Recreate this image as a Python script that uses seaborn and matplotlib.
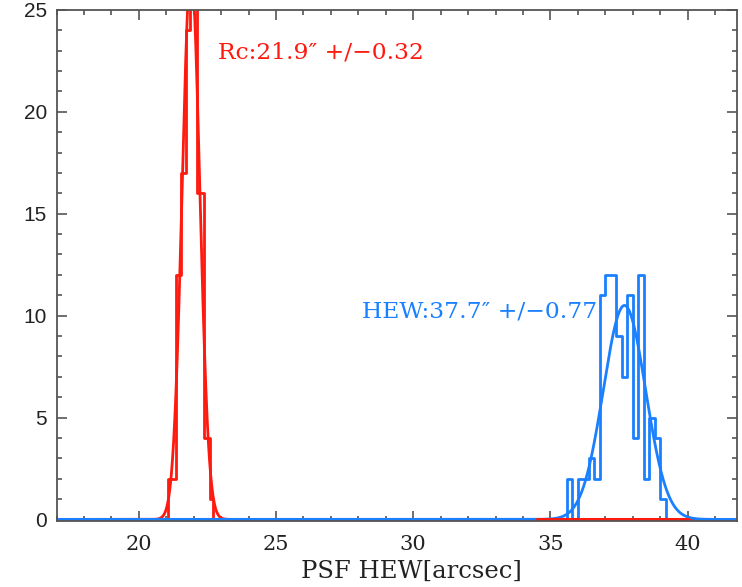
import numpy as np
import pandas as pd
import matplotlib
matplotlib.use("Agg")
import matplotlib.pyplot as plt
import seaborn as sns
from matplotlib.ticker import MultipleLocator

# ---- data ----
red_edges = [21.07, 21.34, 21.52, 21.71, 21.87, 22.01, 22.13, 22.38, 22.59, 22.71]
red_counts = [2, 12, 17, 24, 26, 26, 16, 4, 1]
blue_edges = [35.6, 35.8, 36.0, 36.2, 36.4, 36.6, 36.8, 37.0, 37.2, 37.4,
              37.6, 37.8, 38.0, 38.2, 38.4, 38.6, 38.8, 39.0, 39.2]
blue_counts = [2, 0, 2, 2, 3, 2, 11, 12, 12, 9, 7, 11, 4, 12, 2, 5, 4, 1]

red_mean, red_sigma, red_amp = 21.9, 0.32, 27.0
blue_mean, blue_sigma, blue_amp = 37.7, 0.77, 10.5
red_base_range = [34.5, 40.0]

red_label = "Rc:21.9\u2033 +/\u22120.32"
blue_label = "HEW:37.7\u2033 +/\u22120.77"
x_label = "PSF HEW[arcsec]"
x_ticks = [20, 25, 30, 35, 40]
y_ticks = [0, 5, 10, 15, 20, 25]

RED = "#ff1a10"
BLUE = "#1a80ff"

sns.set_theme(style="ticks")
plt.rcParams["font.family"] = ["DejaVu Sans"]

fig = plt.figure(figsize=(7.42, 5.87), dpi=100)
ax = fig.add_axes([0.0762, 0.1124, 0.917, 0.8706])

xlo, xhi = 17.0, 41.8


def draw_hist(edges, counts, color):
    e = [float(v) for v in edges]
    pad = 0.005
    bins = [e[0] - pad] + e + [e[-1] + pad]
    centers = [(a + b) / 2 for a, b in zip(bins[:-1], bins[1:])]
    w = [0.0] + [float(c) for c in counts] + [0.0]
    df = pd.DataFrame({"x": centers, "w": w})
    sns.histplot(data=df, x="x", weights="w", bins=bins, element="step", fill=False,
                 color=color, linewidth=2.0, ax=ax)


xs = np.linspace(xlo, xhi, 3000)
draw_hist(red_edges, red_counts, RED)
sns.lineplot(x=xs, y=red_amp * np.exp(-0.5 * ((xs - red_mean) / red_sigma) ** 2),
             color=RED, linewidth=2.0, ax=ax, estimator=None)
draw_hist(blue_edges, blue_counts, BLUE)
sns.lineplot(x=xs, y=blue_amp * np.exp(-0.5 * ((xs - blue_mean) / blue_sigma) ** 2),
             color=BLUE, linewidth=2.0, ax=ax, estimator=None)
sns.lineplot(x=red_base_range, y=[0, 0], color=RED, linewidth=2.2, ax=ax,
             estimator=None)

ax.set_xlim(xlo, xhi)
ax.set_ylim(-0.08, 25.0)
ax.set_ylabel("")
ax.set_xlabel(x_label, fontsize=17.5, family="DejaVu Serif", color="#222222", labelpad=2)
ax.xaxis.set_label_coords(0.522, -0.075)

ax.set_xticks(x_ticks)
ax.set_yticks(y_ticks)
ax.xaxis.set_minor_locator(MultipleLocator(1))
ax.yaxis.set_minor_locator(MultipleLocator(1))
ax.tick_params(which="both", direction="in", top=True, right=True,
               color="#555555", width=1.2)
ax.tick_params(which="major", length=7)
ax.tick_params(which="minor", length=3.5)
ax.tick_params(axis="x", which="major", pad=10)
ax.tick_params(axis="y", which="major", pad=7)
for lab in ax.get_xticklabels():
    lab.set_fontfamily("DejaVu Serif")
    lab.set_fontsize(15)
    lab.set_color("#222222")
for lab in ax.get_yticklabels():
    lab.set_fontfamily("Liberation Sans")
    lab.set_fontsize(15)
    lab.set_color("#222222")

for sp in ax.spines.values():
    sp.set_visible(True)
    sp.set_color("#555555")
    sp.set_linewidth(1.3)

ax.text(22.9, 22.9, red_label, color=RED, fontsize=16.8, family="DejaVu Serif",
        va="center", ha="left")
ax.text(28.13, 10.2, blue_label, color=BLUE, fontsize=16.8, family="DejaVu Serif",
        va="center", ha="left")

fig.savefig("out.png", dpi=100, facecolor="white")
